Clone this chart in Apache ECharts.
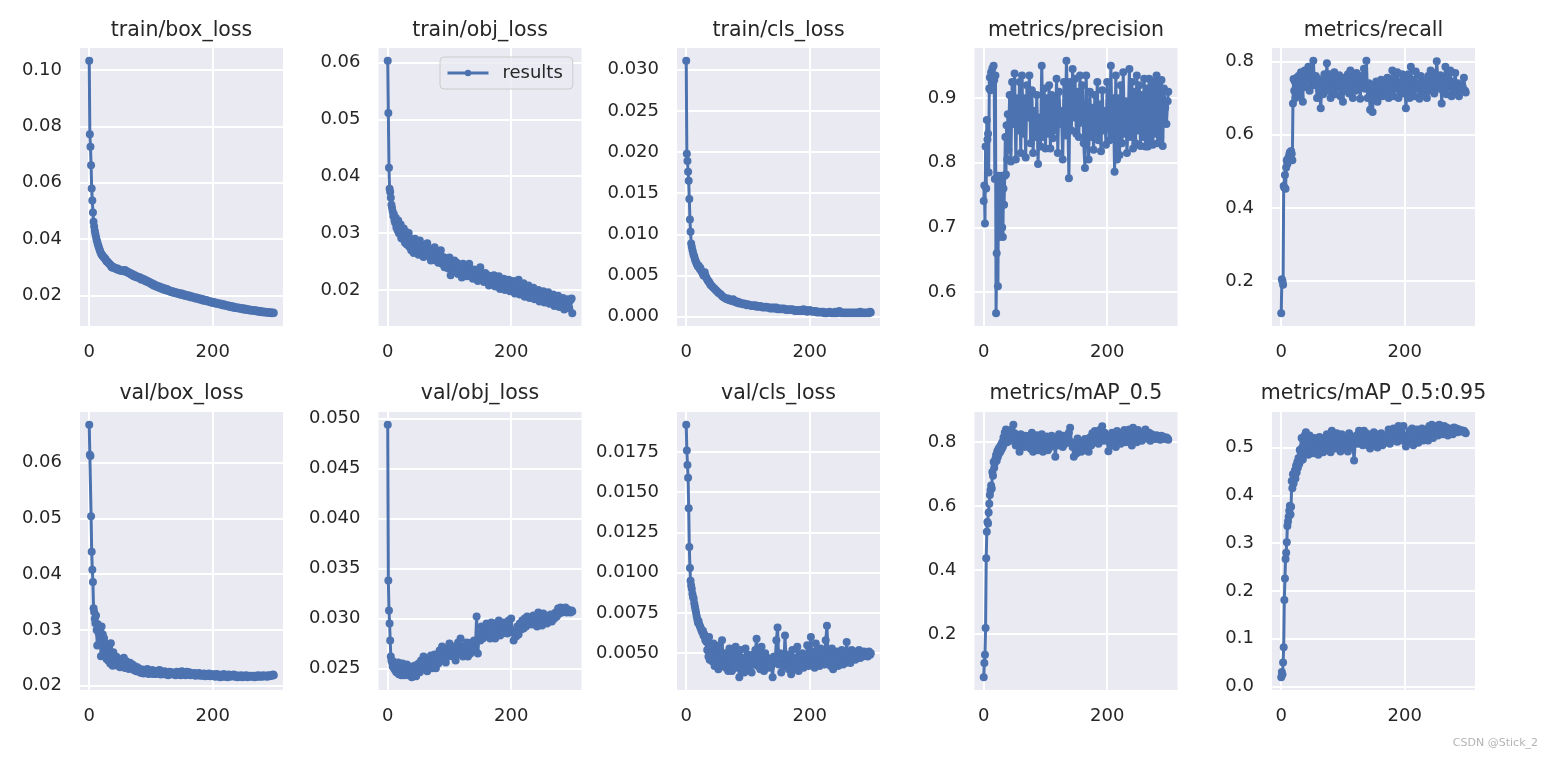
<!DOCTYPE html>
<html><head><meta charset="utf-8">
<script src="https://cdn.jsdelivr.net/npm/echarts@6/dist/echarts.min.js"></script>
<style>html,body{margin:0;padding:0;background:#fff}#c{width:1555px;height:760px}</style>
</head><body><div id="c"></div>
<script>
// ---- x values (epochs) ----
const epochs = [
  0,1,2,3,4,5,6,7,8,9,10,11,12,13,14,15,16,17,18,19,
  20,21,22,23,24,25,26,27,28,29,30,31,32,33,34,35,36,37,38,39,40,
  42,44,46,48,50,52,54,56,58,60,62,64,66,68,70,72,
  74,76,78,80,82,84,86,88,90,92,94,96,98,100,102,104,
  106,108,110,112,114,116,118,120,122,124,126,128,130,132,134,136,
  138,140,142,144,146,148,150,152,154,156,158,160,162,164,166,168,
  170,172,174,176,178,180,182,184,186,188,190,192,194,196,198,200,
  202,204,206,208,210,212,214,216,218,220,222,224,226,228,230,232,
  234,236,238,240,242,244,246,248,250,252,254,256,258,260,262,264,
  266,268,270,272,274,276,278,280,282,284,286,288,290,292,294,296,
  298,299
];

// ---- series values ----
const trainBoxLoss = [
  0.1033,0.0772,0.0728,0.0662,0.0580,0.0537,0.0495,0.0462,0.0445,0.0430,0.0418,0.0408,0.0398,0.0390,0.0382,0.0375,0.0368,0.0362,0.0355,0.0350,
  0.0346,0.0343,0.0340,0.0338,0.0334,0.0333,0.0330,0.0326,0.0322,0.0322,0.0318,0.0316,0.0314,0.0312,0.0309,0.0307,0.0302,0.0300,0.0303,0.0300,0.0298,
  0.0299,0.0293,0.0296,0.0290,0.0292,0.0287,0.0290,0.0286,0.0291,0.0284,0.0285,0.0279,0.0281,0.0274,0.0277,0.0269,
  0.0272,0.0265,0.0268,0.0262,0.0265,0.0257,0.0261,0.0254,0.0257,0.0250,0.0253,0.0246,0.0248,0.0241,0.0244,0.0236,
  0.0239,0.0232,0.0235,0.0229,0.0232,0.0225,0.0229,0.0222,0.0226,0.0219,0.0223,0.0216,0.0219,0.0213,0.0216,0.0210,
  0.0214,0.0208,0.0211,0.0206,0.0209,0.0203,0.0207,0.0201,0.0205,0.0199,0.0202,0.0197,0.0200,0.0194,0.0198,0.0192,
  0.0195,0.0190,0.0193,0.0188,0.0191,0.0185,0.0189,0.0183,0.0186,0.0181,0.0184,0.0179,0.0181,0.0176,0.0179,0.0174,
  0.0177,0.0172,0.0175,0.0170,0.0173,0.0168,0.0171,0.0166,0.0169,0.0164,0.0167,0.0162,0.0165,0.0160,0.0163,0.0158,
  0.0161,0.0156,0.0159,0.0155,0.0158,0.0153,0.0156,0.0152,0.0155,0.0150,0.0153,0.0149,0.0152,0.0147,0.0150,0.0146,
  0.0149,0.0145,0.0148,0.0144,0.0146,0.0142,0.0145,0.0141,0.0144,0.0140,0.0143,0.0139,0.0142,0.0138,0.0141,0.0137,
  0.0140,0.0138
];
const trainObjLoss = [
  0.0603,0.0511,0.0415,0.0378,0.0372,0.0362,0.0350,0.0344,0.0338,0.0330,0.0333,0.0322,0.0318,0.0327,0.0310,0.0315,0.0305,0.0322,0.0300,0.0312,
  0.0298,0.0315,0.0291,0.0305,0.0296,0.0289,0.0308,0.0300,0.0283,0.0296,0.0302,0.0280,0.0294,0.0286,0.0300,0.0276,0.0290,0.0282,0.0270,0.0288,0.0279,
  0.0265,0.0290,0.0272,0.0283,0.0262,0.0287,0.0270,0.0279,0.0258,0.0276,0.0268,0.0282,0.0260,0.0273,0.0252,0.0270,
  0.0258,0.0275,0.0252,0.0266,0.0248,0.0262,0.0270,0.0246,0.0258,0.0240,0.0256,0.0249,0.0238,0.0257,0.0226,0.0250,
  0.0238,0.0252,0.0232,0.0248,0.0228,0.0244,0.0236,0.0222,0.0246,0.0230,0.0240,0.0224,0.0238,0.0246,0.0228,0.0234,
  0.0220,0.0236,0.0226,0.0232,0.0216,0.0234,0.0240,0.0222,0.0228,0.0214,0.0230,0.0218,0.0226,0.0208,0.0224,0.0216,
  0.0212,0.0226,0.0206,0.0220,0.0210,0.0224,0.0202,0.0216,0.0208,0.0220,0.0200,0.0214,0.0206,0.0218,0.0198,0.0210,
  0.0200,0.0216,0.0194,0.0210,0.0202,0.0218,0.0192,0.0206,0.0196,0.0212,0.0188,0.0202,0.0194,0.0208,0.0186,0.0198,
  0.0190,0.0204,0.0184,0.0198,0.0188,0.0200,0.0180,0.0194,0.0184,0.0198,0.0178,0.0192,0.0182,0.0196,0.0176,0.0190,
  0.0180,0.0192,0.0172,0.0188,0.0176,0.0190,0.0170,0.0184,0.0174,0.0186,0.0166,0.0180,0.0170,0.0184,0.0168,0.0182,
  0.0185,0.0159
];
const trainClsLoss = [
  0.0311,0.0198,0.0189,0.0176,0.0165,0.0143,0.0118,0.0103,0.0089,0.0085,0.0081,0.0078,0.0075,0.0073,0.0070,0.0068,0.0066,0.0064,0.0063,0.0061,
  0.0062,0.0060,0.0058,0.0059,0.0056,0.0055,0.0054,0.0052,0.0050,0.0053,0.0054,0.0050,0.0048,0.0047,0.0045,0.0044,0.0043,0.0042,0.0041,0.0039,0.0038,
  0.0037,0.0035,0.0034,0.0032,0.0031,0.0029,0.0028,0.0027,0.0025,0.0024,0.0023,0.0022,0.0021,0.0022,0.0020,0.0020,
  0.0019,0.0021,0.0018,0.0019,0.0017,0.0018,0.0016,0.0017,0.0016,0.0015,0.0016,0.0015,0.0014,0.0015,0.0014,0.0014,
  0.0013,0.0014,0.0013,0.0014,0.0012,0.0013,0.0012,0.0013,0.0012,0.0011,0.0012,0.0011,0.0012,0.0011,0.0011,0.0010,
  0.0011,0.0010,0.0011,0.0010,0.0011,0.0009,0.0010,0.0009,0.0010,0.0009,0.0010,0.0009,0.0008,0.0009,0.0008,0.0009,
  0.0008,0.0009,0.0008,0.0007,0.0008,0.0007,0.0008,0.0007,0.0008,0.0007,0.0009,0.0007,0.0008,0.0006,0.0007,0.0008,
  0.0007,0.0006,0.0007,0.0006,0.0007,0.0005,0.0006,0.0005,0.0006,0.0005,0.0006,0.0004,0.0005,0.0004,0.0005,0.0006,
  0.0005,0.0004,0.0005,0.0004,0.0006,0.0004,0.0005,0.0007,0.0005,0.0004,0.0005,0.0004,0.0005,0.0004,0.0005,0.0004,
  0.0005,0.0004,0.0005,0.0004,0.0005,0.0004,0.0005,0.0004,0.0006,0.0004,0.0005,0.0004,0.0005,0.0004,0.0005,0.0004,
  0.0006,0.0005
];
const precision = [
  0.741,0.765,0.706,0.825,0.760,0.866,0.836,0.845,0.785,0.915,0.932,0.912,0.940,0.924,0.946,0.918,0.950,0.928,0.775,0.935,
  0.567,0.660,0.775,0.609,0.780,0.685,0.750,0.690,0.732,0.780,0.700,0.685,0.760,0.735,0.780,0.840,0.782,0.858,0.805,0.875,0.820,
  0.905,0.802,0.925,0.860,0.938,0.805,0.900,0.850,0.925,0.815,0.935,0.845,0.900,0.808,0.920,0.870,
  0.935,0.830,0.912,0.815,0.880,0.840,0.905,0.798,0.870,0.825,0.950,0.840,0.915,0.822,0.900,0.845,
  0.920,0.822,0.905,0.838,0.895,0.850,0.930,0.815,0.910,0.860,0.880,0.805,0.925,0.842,0.958,0.880,
  0.776,0.925,0.850,0.945,0.870,0.930,0.845,0.910,0.840,0.935,0.862,0.920,0.830,0.792,0.935,0.850,
  0.805,0.910,0.840,0.885,0.820,0.905,0.845,0.925,0.835,0.890,0.818,0.912,0.850,0.880,0.828,0.925,
  0.880,0.835,0.950,0.845,0.900,0.786,0.935,0.805,0.900,0.812,0.920,0.830,0.940,0.845,0.895,0.815,
  0.860,0.945,0.840,0.925,0.822,0.910,0.830,0.935,0.850,0.920,0.826,0.905,0.840,0.930,0.825,0.915,
  0.825,0.930,0.835,0.918,0.828,0.925,0.845,0.935,0.830,0.920,0.840,0.928,0.826,0.915,0.885,0.860,
  0.895,0.910
];
const recall = [
  0.112,0.205,0.200,0.190,0.460,0.455,0.490,0.452,0.510,0.530,0.520,0.535,0.528,0.545,0.552,0.540,0.555,0.548,0.530,0.685,
  0.752,0.720,0.745,0.700,0.735,0.755,0.712,0.740,0.760,0.725,0.748,0.705,0.770,0.738,0.755,0.690,0.765,0.745,0.775,0.730,0.760,
  0.760,0.785,0.720,0.770,0.740,0.802,0.735,0.760,0.700,0.752,0.725,0.672,0.745,0.710,0.765,0.730,
  0.795,0.720,0.765,0.700,0.750,0.728,0.770,0.710,0.745,0.730,0.762,0.705,0.740,0.690,0.755,0.720,
  0.745,0.765,0.712,0.775,0.735,0.700,0.755,0.720,0.768,0.728,0.742,0.698,0.760,0.735,0.780,0.725,
  0.802,0.700,0.740,0.668,0.735,0.662,0.725,0.700,0.745,0.690,0.735,0.712,0.750,0.705,0.742,0.722,
  0.710,0.755,0.700,0.740,0.718,0.775,0.705,0.760,0.725,0.770,0.700,0.745,0.728,0.765,0.712,0.752,
  0.672,0.730,0.765,0.700,0.785,0.718,0.750,0.705,0.772,0.725,0.740,0.698,0.760,0.715,0.745,0.708,
  0.745,0.700,0.760,0.720,0.775,0.735,0.768,0.712,0.750,0.800,0.740,0.725,0.762,0.685,0.748,0.715,
  0.785,0.710,0.760,0.730,0.775,0.705,0.745,0.725,0.768,0.715,0.740,0.705,0.735,0.725,0.730,0.755,
  0.720,0.715
];
const valBoxLoss = [
  0.0668,0.0614,0.0612,0.0504,0.0440,0.0408,0.0386,0.0339,0.0332,0.0320,0.0312,0.0326,0.0300,0.0272,0.0310,0.0295,0.0305,0.0288,0.0298,0.0253,
  0.0306,0.0282,0.0292,0.0270,0.0285,0.0262,0.0255,0.0275,0.0248,0.0265,0.0258,0.0245,0.0268,0.0252,0.0240,0.0276,0.0245,0.0255,0.0236,0.0260,0.0248,
  0.0242,0.0252,0.0236,0.0248,0.0233,0.0245,0.0238,0.0250,0.0232,0.0244,0.0236,0.0230,0.0241,0.0232,0.0238,0.0228,
  0.0235,0.0226,0.0233,0.0225,0.0230,0.0223,0.0229,0.0222,0.0228,0.0224,0.0230,0.0221,0.0227,0.0222,0.0228,0.0221,
  0.0226,0.0221,0.0227,0.0222,0.0228,0.0220,0.0225,0.0221,0.0226,0.0220,0.0224,0.0219,0.0225,0.0221,0.0224,0.0220,
  0.0223,0.0219,0.0225,0.0220,0.0224,0.0219,0.0226,0.0220,0.0223,0.0219,0.0225,0.0220,0.0224,0.0219,0.0222,0.0220,
  0.0223,0.0218,0.0222,0.0219,0.0223,0.0218,0.0221,0.0218,0.0222,0.0217,0.0221,0.0218,0.0222,0.0217,0.0221,0.0218,
  0.0220,0.0216,0.0221,0.0217,0.0220,0.0215,0.0219,0.0216,0.0221,0.0216,0.0219,0.0215,0.0220,0.0216,0.0219,0.0217,
  0.0220,0.0216,0.0219,0.0215,0.0218,0.0216,0.0219,0.0215,0.0218,0.0216,0.0219,0.0215,0.0218,0.0216,0.0218,0.0216,
  0.0218,0.0215,0.0218,0.0216,0.0219,0.0216,0.0218,0.0216,0.0219,0.0217,0.0218,0.0216,0.0219,0.0217,0.0219,0.0218,
  0.0220,0.0219
];
const valObjLoss = [
  0.0494,0.0338,0.0308,0.0295,0.0278,0.0262,0.0258,0.0256,0.0252,0.0257,0.0250,0.0254,0.0248,0.0255,0.0246,0.0252,0.0249,0.0256,0.0244,0.0251,
  0.0253,0.0247,0.0243,0.0250,0.0255,0.0245,0.0249,0.0243,0.0252,0.0247,0.0244,0.0254,0.0248,0.0243,0.0250,0.0246,0.0252,0.0244,0.0248,0.0241,0.0250,
  0.0246,0.0253,0.0242,0.0250,0.0255,0.0246,0.0258,0.0249,0.0262,0.0250,0.0257,0.0247,0.0260,0.0252,0.0263,0.0250,
  0.0256,0.0264,0.0250,0.0262,0.0255,0.0268,0.0258,0.0272,0.0260,0.0266,0.0256,0.0270,0.0262,0.0275,0.0264,0.0270,
  0.0262,0.0272,0.0258,0.0268,0.0276,0.0264,0.0280,0.0266,0.0262,0.0272,0.0266,0.0276,0.0262,0.0270,0.0265,0.0276,
  0.0270,0.0278,0.0268,0.0302,0.0265,0.0285,0.0278,0.0292,0.0280,0.0287,0.0282,0.0295,0.0284,0.0290,0.0280,0.0296,
  0.0284,0.0295,0.0280,0.0292,0.0287,0.0298,0.0283,0.0290,0.0285,0.0296,0.0288,0.0293,0.0285,0.0298,0.0290,0.0300,
  0.0286,0.0278,0.0288,0.0282,0.0292,0.0284,0.0295,0.0289,0.0298,0.0290,0.0300,0.0292,0.0302,0.0294,0.0298,0.0300,
  0.0294,0.0303,0.0295,0.0300,0.0292,0.0306,0.0296,0.0302,0.0293,0.0305,0.0298,0.0303,0.0295,0.0301,0.0297,0.0304,
  0.0297,0.0304,0.0300,0.0306,0.0302,0.0310,0.0305,0.0311,0.0306,0.0310,0.0308,0.0311,0.0306,0.0309,0.0307,0.0306,
  0.0308,0.0307
];
const valClsLoss = [
  0.0192,0.0176,0.0167,0.0159,0.0140,0.0116,0.0103,0.0095,0.0092,0.0090,0.0087,0.0085,0.0084,0.0081,0.0079,0.0077,0.0075,0.0073,0.0071,0.0069,
  0.0070,0.0068,0.0067,0.0066,0.0065,0.0064,0.0063,0.0064,0.0061,0.0062,0.0060,0.0058,0.0059,0.0057,0.0052,0.0058,0.0048,0.0060,0.0046,0.0055,0.0050,
  0.0045,0.0056,0.0042,0.0052,0.0047,0.0040,0.0055,0.0043,0.0058,0.0044,0.0050,0.0041,0.0048,0.0039,0.0053,0.0044,
  0.0039,0.0050,0.0044,0.0054,0.0041,0.0048,0.0035,0.0052,0.0041,0.0047,0.0038,0.0053,0.0043,0.0049,0.0040,0.0047,
  0.0038,0.0049,0.0043,0.0052,0.0059,0.0042,0.0052,0.0040,0.0054,0.0046,0.0039,0.0050,0.0043,0.0047,0.0041,0.0046,
  0.0042,0.0035,0.0048,0.0044,0.0058,0.0066,0.0043,0.0050,0.0038,0.0047,0.0042,0.0061,0.0044,0.0049,0.0040,0.0046,
  0.0037,0.0052,0.0040,0.0047,0.0042,0.0054,0.0039,0.0046,0.0043,0.0050,0.0041,0.0048,0.0044,0.0055,0.0042,0.0049,
  0.0060,0.0043,0.0051,0.0041,0.0056,0.0044,0.0049,0.0042,0.0053,0.0045,0.0050,0.0043,0.0058,0.0067,0.0046,0.0051,
  0.0042,0.0053,0.0040,0.0048,0.0044,0.0051,0.0042,0.0049,0.0045,0.0052,0.0043,0.0050,0.0044,0.0057,0.0046,0.0050,
  0.0044,0.0052,0.0047,0.0051,0.0046,0.0050,0.0048,0.0052,0.0047,0.0049,0.0048,0.0051,0.0049,0.0050,0.0048,0.0051,
  0.0049,0.0050
];
const mAP50 = [
  0.065,0.110,0.136,0.219,0.437,0.520,0.551,0.546,0.580,0.608,0.635,0.650,0.665,0.655,0.707,0.695,0.738,0.720,0.735,0.748,
  0.760,0.742,0.772,0.755,0.780,0.765,0.785,0.770,0.792,0.778,0.800,0.785,0.815,0.795,0.830,0.808,0.840,0.812,0.800,0.835,0.818,
  0.822,0.838,0.805,0.855,0.828,0.790,0.815,0.800,0.770,0.825,0.795,0.810,0.785,0.820,0.795,0.812,
  0.800,0.780,0.830,0.770,0.815,0.792,0.822,0.775,0.810,0.785,0.825,0.770,0.805,0.790,0.818,0.775,
  0.808,0.785,0.820,0.790,0.812,0.755,0.805,0.790,0.825,0.798,0.810,0.785,0.820,0.795,0.815,0.800,
  0.830,0.845,0.800,0.785,0.755,0.788,0.765,0.812,0.775,0.795,0.770,0.800,0.780,0.810,0.775,0.795,
  0.770,0.815,0.790,0.828,0.800,0.835,0.810,0.825,0.795,0.838,0.815,0.850,0.805,0.830,0.820,0.805,
  0.772,0.820,0.790,0.830,0.798,0.822,0.785,0.835,0.805,0.825,0.795,0.830,0.810,0.838,0.800,0.825,
  0.805,0.840,0.815,0.790,0.845,0.820,0.835,0.800,0.838,0.815,0.825,0.805,0.830,0.818,0.840,0.812,
  0.812,0.830,0.805,0.825,0.815,0.820,0.810,0.822,0.812,0.818,0.808,0.820,0.812,0.816,0.810,0.815,
  0.812,0.808
];
const mAP5095 = [
  0.019,0.030,0.025,0.050,0.082,0.181,0.226,0.267,0.280,0.302,0.336,0.345,0.355,0.368,0.378,0.360,0.376,0.430,0.415,0.444,
  0.425,0.440,0.452,0.435,0.462,0.448,0.470,0.458,0.478,0.465,0.495,0.472,0.488,0.520,0.500,0.475,0.510,0.490,0.525,0.498,0.532,
  0.505,0.485,0.525,0.492,0.515,0.488,0.520,0.500,0.510,0.485,0.522,0.495,0.512,0.490,0.520,0.500,
  0.528,0.495,0.515,0.490,0.535,0.505,0.522,0.498,0.530,0.500,0.520,0.492,0.528,0.505,0.518,0.498,
  0.518,0.492,0.530,0.500,0.520,0.505,0.473,0.515,0.525,0.508,0.535,0.512,0.528,0.505,0.535,0.515,
  0.530,0.505,0.522,0.498,0.520,0.510,0.532,0.505,0.528,0.500,0.525,0.512,0.530,0.505,0.522,0.510,
  0.525,0.512,0.538,0.508,0.530,0.515,0.540,0.518,0.535,0.512,0.545,0.520,0.538,0.515,0.545,0.520,
  0.502,0.525,0.512,0.535,0.518,0.540,0.505,0.530,0.520,0.538,0.510,0.532,0.522,0.540,0.515,0.530,
  0.522,0.538,0.515,0.545,0.528,0.548,0.520,0.540,0.530,0.545,0.525,0.548,0.532,0.542,0.528,0.545,
  0.530,0.542,0.525,0.538,0.532,0.540,0.528,0.542,0.535,0.540,0.532,0.538,0.535,0.536,0.533,0.535,
  0.532,0.530
];

// ---- titles and tick labels ----
const panelTitles = ['train/box_loss','train/obj_loss','train/cls_loss','metrics/precision','metrics/recall',
                     'val/box_loss','val/obj_loss','val/cls_loss','metrics/mAP_0.5','metrics/mAP_0.5:0.95'];
const xTicks = [0, 200];
const yTicksTrainBox = [0.02,0.04,0.06,0.08,0.10];
const yTicksTrainObj = [0.02,0.03,0.04,0.05,0.06];
const yTicksTrainCls = [0.000,0.005,0.010,0.015,0.020,0.025,0.030];
const yTicksPrecision = [0.6,0.7,0.8,0.9];
const yTicksRecall = [0.2,0.4,0.6,0.8];
const yTicksValBox = [0.02,0.03,0.04,0.05,0.06];
const yTicksValObj = [0.025,0.030,0.035,0.040,0.045,0.050];
const yTicksValCls = [0.0050,0.0075,0.0100,0.0125,0.0150,0.0175];
const yTicksMap50 = [0.2,0.4,0.6,0.8];
const yTicksMap5095 = [0.0,0.1,0.2,0.3,0.4,0.5];

const seriesValues = [trainBoxLoss,trainObjLoss,trainClsLoss,precision,recall,valBoxLoss,valObjLoss,valClsLoss,mAP50,mAP5095];
const yTicks = [yTicksTrainBox,yTicksTrainObj,yTicksTrainCls,yTicksPrecision,yTicksRecall,yTicksValBox,yTicksValObj,yTicksValCls,yTicksMap50,yTicksMap5095];
const tickDecimals = [2,2,3,1,1,2,3,4,1,1];

// ---- layout / style ----
const FONT = 'DejaVu Sans';
const TXT = '#262626';
const BLUE = '#4C72B0';
const colLeft = [80, 378.5, 677, 974.5, 1272];
const rowTop = [48, 412];
const plotW = 203, plotH = 278;

const grids = [], xAxes = [], yAxes = [], series = [], titles = [];
for (let i = 0; i < 10; i++) {
  const r = Math.floor(i / 5), c = i % 5;
  grids.push({left: colLeft[c], top: rowTop[r], width: plotW, height: plotH,
    show: true, backgroundColor: '#EAEAF2', borderWidth: 0, containLabel: false});
  xAxes.push({type: 'value', gridIndex: i, min: -14.95, max: 313.95,
    axisLine: {show: false}, axisTick: {show: false, customValues: xTicks},
    axisLabel: {customValues: xTicks, color: TXT, fontSize: 18, fontFamily: FONT, margin: 17},
    splitLine: {show: true, lineStyle: {color: '#ffffff', width: 2}}});
  const dec = tickDecimals[i];
  yAxes.push({type: 'value', gridIndex: i, scale: true,
    min: v => v.min - 0.05 * (v.max - v.min),
    max: v => v.max + 0.05 * (v.max - v.min),
    axisLine: {show: false}, axisTick: {show: false, customValues: yTicks[i]},
    axisLabel: {customValues: yTicks[i], color: TXT, fontSize: 18, fontFamily: FONT, margin: 18,
      formatter: v => Number(v).toFixed(dec)},
    splitLine: {show: true, lineStyle: {color: '#ffffff', width: 2}}});
  const vals = seriesValues[i];
  series.push({type: 'line', name: 'results', xAxisIndex: i, yAxisIndex: i,
    data: epochs.map((e, k) => [e, vals[k]]),
    symbol: 'circle', symbolSize: 8, showSymbol: true,
    lineStyle: {color: BLUE, width: 3}, itemStyle: {color: BLUE, borderWidth: 0},
    emphasis: {disabled: true}, animation: false, clip: true});
  titles.push({text: panelTitles[i], left: colLeft[c] + plotW / 2, top: r === 0 ? 20 : 383,
    textAlign: 'center', padding: 0,
    textStyle: {color: TXT, fontSize: 20.5, fontWeight: 'normal', fontFamily: FONT}});
}
titles.push({text: 'CSDN @Stick_2', right: 17, top: 738, padding: 0,
  textStyle: {color: '#b4b4b4', fontSize: 11, fontWeight: 'normal', fontFamily: FONT}});

const chart = echarts.init(document.getElementById('c'), null, {renderer: 'canvas'});
chart.setOption({
  backgroundColor: '#ffffff',
  animation: false,
  title: titles,
  grid: grids, xAxis: xAxes, yAxis: yAxes, series: series,
  legend: {data: ['results'], left: 440, top: 57, padding: [7, 10, 7, 6],
    itemWidth: 41, itemHeight: 8, selectedMode: false,
    lineStyle: {width: 3, color: BLUE}, itemStyle: {color: BLUE},
    backgroundColor: 'rgba(234,234,242,0.8)', borderColor: '#cccccc', borderWidth: 1, borderRadius: 4,
    textStyle: {color: TXT, fontSize: 18, fontFamily: FONT, padding: [0, 0, 0, 9]}},
  tooltip: {show: false}
});
</script></body></html>
